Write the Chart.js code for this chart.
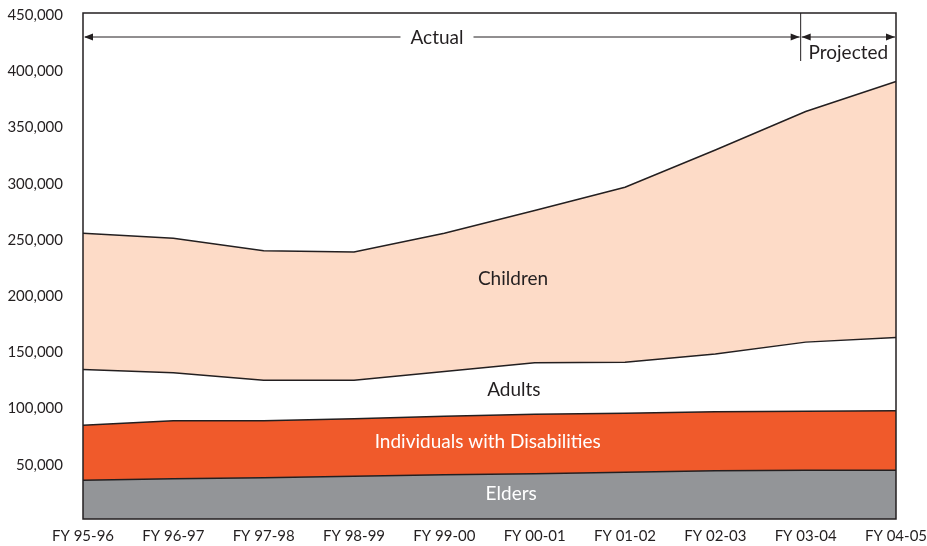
<!DOCTYPE html>
<html>
<head>
<meta charset="utf-8">
<script src="https://cdn.jsdelivr.net/npm/chart.js@4/dist/chart.umd.min.js"></script>
<style>
  html, body { margin: 0; padding: 0; background: #ffffff; }
  #wrap { width: 927px; height: 546px; position: relative; }
</style>
</head>
<body>
<div id="wrap"><canvas id="c" width="927" height="546"></canvas></div>
<script>
// Fiscal years on the horizontal axis
const years = ['FY 95-96', 'FY 96-97', 'FY 97-98', 'FY 98-99', 'FY 99-00',
               'FY 00-01', 'FY 01-02', 'FY 02-03', 'FY 03-04', 'FY 04-05'];

// Enrollment by group (stacked from the bottom up)
const elders       = [34500, 35800, 36700, 38000, 39400, 40200, 41600, 42900, 43400, 43400];
const disabilities = [48900, 51500, 50700, 51200, 52000, 53000, 52500, 52500, 52500, 52800];
const adults       = [49600, 42700, 36100, 34300, 39800, 45700, 45200, 51400, 61400, 65300];
const children     = [121100, 119700, 115100, 114000, 122900, 135500, 155800, 181400, 205100, 227600];

// Y-axis tick values (0 left unlabeled)
const yTicks = [0, 50000, 100000, 150000, 200000, 250000, 300000, 350000, 400000, 450000];

const INK = '#231f20';
const FONT = 'Lato, "Open Sans", sans-serif';

// Group names written inside their bands, at (category index, value)
const bandLabels = [
  { text: 'Children', x: 4.76, y: 213400, color: INK },
  { text: 'Adults', x: 4.77, y: 114600, color: INK },
  { text: 'Individuals with Disabilities', x: 4.48, y: 68300, color: '#ffffff' },
  { text: 'Elders', x: 4.74, y: 22000, color: '#ffffff' }
];

const overlay = {
  id: 'overlay',
  afterDatasetsDraw(chart) {
    const { ctx, chartArea: a, scales: { x, y } } = chart;
    ctx.save();

    // Band labels
    ctx.font = '19px ' + FONT;
    ctx.textAlign = 'center';
    ctx.textBaseline = 'middle';
    bandLabels.forEach(l => {
      ctx.fillStyle = l.color;
      ctx.fillText(l.text, x.getPixelForValue(l.x), y.getPixelForValue(l.y));
    });

    // Plot frame
    ctx.strokeStyle = INK;
    ctx.lineWidth = 1.5;
    ctx.strokeRect(a.left, a.top, a.right - a.left, a.bottom - a.top);

    // Actual / Projected span markers
    const split = x.getPixelForValue(8) - 5;
    const ay = a.top + 24;
    ctx.lineWidth = 1;
    ctx.beginPath();
    ctx.moveTo(split, a.top);
    ctx.lineTo(split, a.top + 48);
    ctx.stroke();

    const arrowHead = (px, dir) => {
      ctx.beginPath();
      ctx.moveTo(px, ay);
      ctx.lineTo(px - dir * 9, ay - 3.5);
      ctx.lineTo(px - dir * 9, ay + 3.5);
      ctx.closePath();
      ctx.fillStyle = INK;
      ctx.fill();
    };

    ctx.font = '19px ' + FONT;
    const actualX = 437;
    const actualW = ctx.measureText('Actual').width;
    ctx.beginPath();
    ctx.moveTo(a.left + 2, ay);
    ctx.lineTo(actualX - actualW / 2 - 10, ay);
    ctx.moveTo(actualX + actualW / 2 + 10, ay);
    ctx.lineTo(split - 1, ay);
    ctx.moveTo(split + 1, ay);
    ctx.lineTo(a.right - 1, ay);
    ctx.stroke();
    arrowHead(a.left + 1, -1);
    arrowHead(split - 1, 1);
    arrowHead(split + 1, -1);
    arrowHead(a.right - 1, 1);

    ctx.fillStyle = INK;
    ctx.textAlign = 'center';
    ctx.fillText('Actual', actualX, ay + 1);
    ctx.fillText('Projected', (split + a.right) / 2, ay + 16);

    ctx.restore();
  }
};

const lineStyle = { borderColor: INK, borderWidth: 1.5, pointRadius: 0, tension: 0 };

// Keep overhanging tick labels from shrinking the plot area
const noOverhang = s => { s.paddingLeft = 0; s.paddingRight = 0; s.paddingTop = 0; s.paddingBottom = 0; };

new Chart(document.getElementById('c'), {
  type: 'line',
  data: {
    labels: years,
    datasets: [
      { label: 'Elders', data: elders, backgroundColor: '#939598', fill: 'origin', ...lineStyle },
      { label: 'Individuals with Disabilities', data: disabilities, backgroundColor: '#f05a2b', fill: '-1', ...lineStyle },
      { label: 'Adults', data: adults, backgroundColor: '#ffffff', fill: '-1', ...lineStyle },
      { label: 'Children', data: children, backgroundColor: '#fddbc7', fill: '-1', ...lineStyle }
    ]
  },
  options: {
    responsive: false,
    animation: false,
    layout: { padding: { top: 13, right: 31, left: 0, bottom: 0 } },
    plugins: { legend: { display: false }, tooltip: { enabled: false } },
    scales: {
      x: {
        offset: false,
        grid: { display: false, drawTicks: false },
        border: { display: false },
        ticks: { color: INK, font: { family: FONT, size: 15 }, maxRotation: 0, autoSkip: false, padding: 8 },
        afterFit(s) { s.height = 27; noOverhang(s); }
      },
      y: {
        stacked: true,
        min: 0,
        max: 450000,
        grid: { display: false, drawTicks: false },
        border: { display: false },
        afterBuildTicks(s) { s.ticks = yTicks.map(v => ({ value: v })); },
        ticks: {
          color: INK,
          font: { family: FONT, size: 15 },
          padding: 20,
          labelOffset: 2,
          callback: v => v === 0 ? '' : v.toLocaleString('en-US')
        },
        afterFit(s) { s.width = 83; noOverhang(s); }
      }
    }
  },
  plugins: [overlay]
});
</script>
</body>
</html>
